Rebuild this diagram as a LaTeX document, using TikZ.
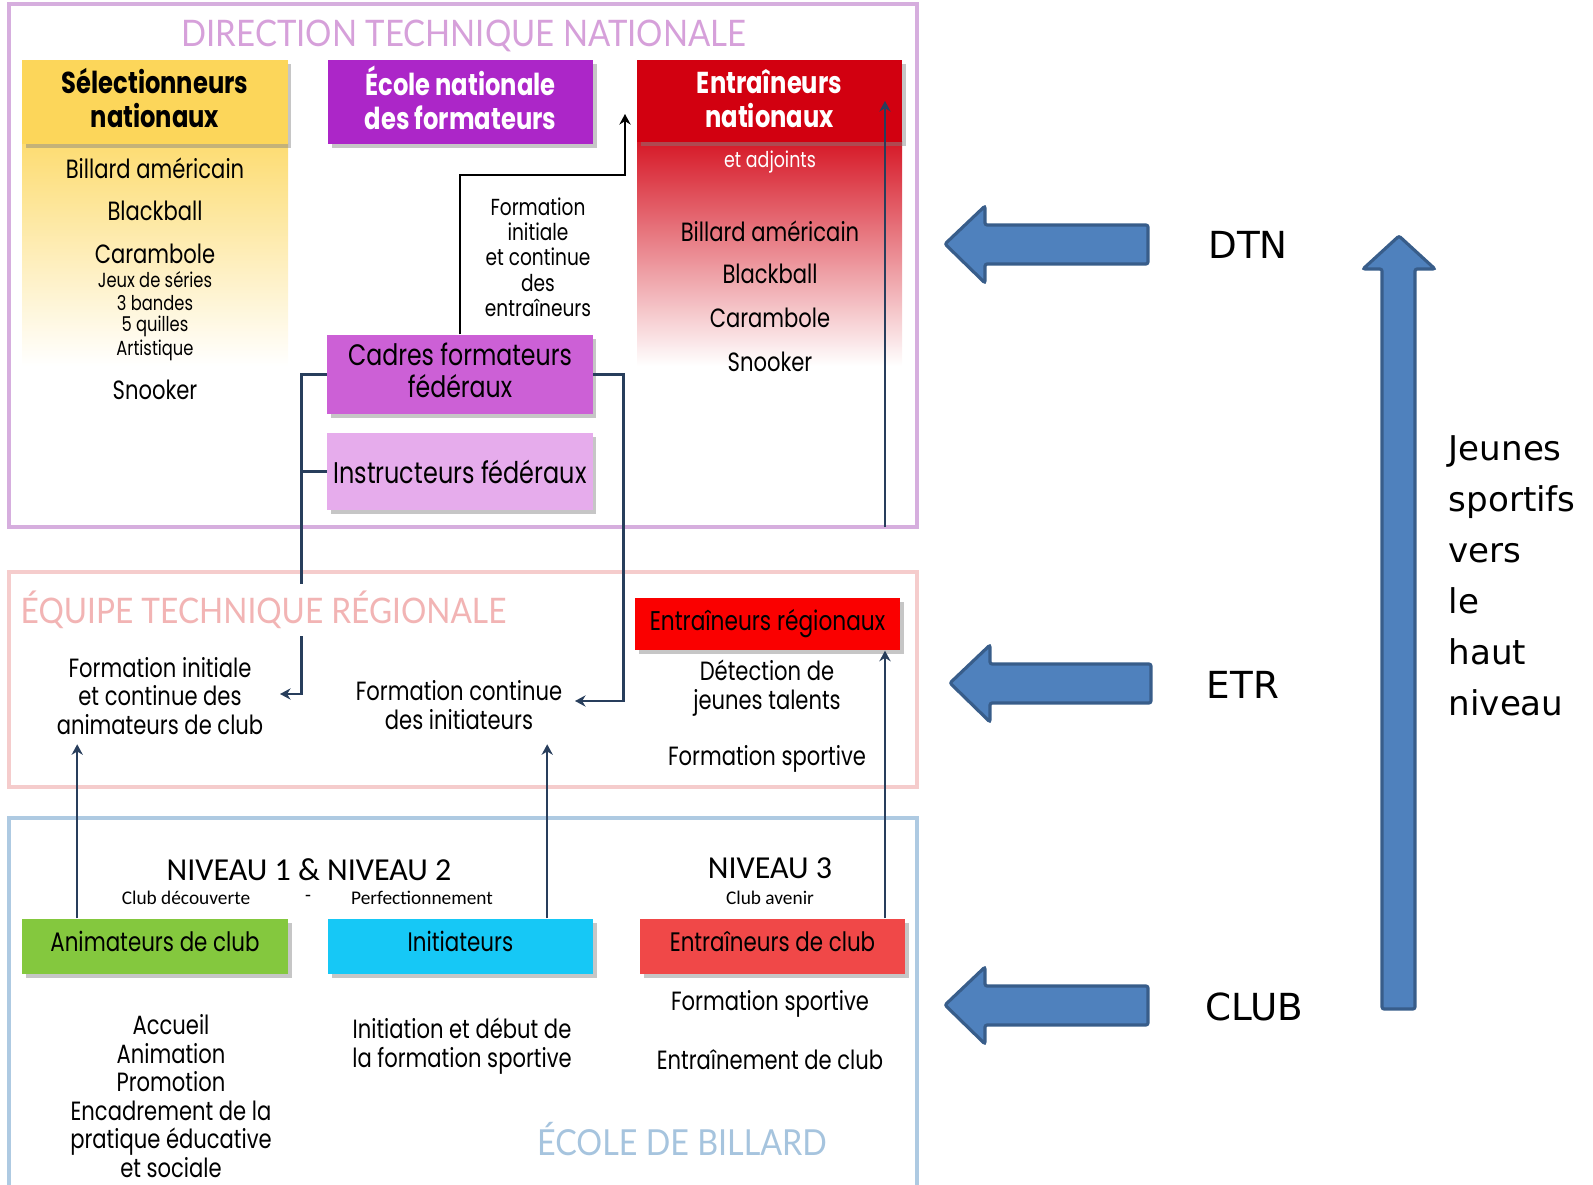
\documentclass[tikz,border=0pt]{standalone}
\usepackage{fontspec}
\usetikzlibrary{arrows.meta,positioning,calc,shadows}
\newfontfamily\rnd[FakeStretch=0.8]{Poppins}
\newfontfamily\ttlfont[FakeStretch=0.9]{Lato}
\newfontfamily\nivfont{Carlito}
\newfontfamily\verd{DejaVu Sans}
\definecolor{selyellow}{RGB}{252,214,90}
\definecolor{ecolepurple}{RGB}{172,38,200}
\definecolor{entred}{RGB}{210,0,16}
\definecolor{cadrespurple}{RGB}{204,96,214}
\definecolor{instrpurple}{RGB}{230,172,236}
\definecolor{regred}{RGB}{250,0,0}
\definecolor{animgreen}{RGB}{132,200,62}
\definecolor{initcyan}{RGB}{22,200,246}
\definecolor{clubred}{RGB}{240,72,72}
\definecolor{dtnline}{RGB}{214,174,222}
\definecolor{etrline}{RGB}{245,204,204}
\definecolor{ecoleline}{RGB}{174,202,226}
\definecolor{dtntitle}{RGB}{214,160,218}
\definecolor{etrtitle}{RGB}{242,180,180}
\definecolor{ecoletitle}{RGB}{166,196,222}
\definecolor{linkblue}{RGB}{40,62,92}
\definecolor{arrowfill}{RGB}{79,129,189}
\definecolor{arrowedge}{RGB}{56,93,138}

\begin{document}
\begin{tikzpicture}[x=0.01cm,y=-0.01cm,
  frame/.style={line width=1pt},
  tier/.style={minimum width=2.65cm, inner sep=0pt, align=center,
    drop shadow={shadow xshift=1.1pt,shadow yshift=-1.1pt,opacity=.45}},
  head/.style={font=\rnd\bfseries\fontsize{8.6}{9.7}\selectfont, text depth=2.4pt},
  txt/.style={font=\rnd\fontsize{7.5}{8.1}\selectfont, align=center},
  small/.style={font=\rnd\fontsize{5.8}{6.6}\selectfont, align=center},
  link/.style={draw=linkblue, line width=.7pt},
  tip/.style={-{Stealth[length=3pt,width=3.2pt]}},
  bigarrow/.style={fill=arrowfill, draw=arrowedge, line width=.9pt, rounded corners=.6pt},
  side/.style={font=\verd\fontsize{10.6}{12}\selectfont},
]
\useasboundingbox (0,0) rectangle (1593,1185);

% frames
\draw[frame, dtnline] (9,4) rectangle (917,527);
\draw[frame, etrline] (9,572) rectangle (917,787);
\draw[frame, ecoleline] (9,1190) -- (9,818) -- (917,818) -- (917,1190);

% ---- Direction technique nationale
\node[font=\ttlfont\fontsize{10.4}{12}\selectfont, text=dtntitle] (dtntitle) at (464,36) {DIRECTION TECHNIQUE NATIONALE};

\shade[top color=selyellow!85, bottom color=white] (22,144) rectangle (288,366);
\shade[top color=entred!90, middle color=entred!45, bottom color=white] (637,142) rectangle (902,366);

\node[tier, head, fill=selyellow, minimum height=0.84cm] (sel) at (155,102) {Sélectionneurs\\nationaux};
\node[tier, head, fill=ecolepurple, text=white, minimum height=0.84cm] (enf) at (460.5,102) {École nationale\\des formateurs};
\node[tier, head, fill=entred, text=white, minimum height=0.82cm, text depth=1.4pt] (entn) at (769.5,101) {Entraîneurs\\nationaux};

% disciplines
\node[txt] (selba) at (155,168) {Billard américain};
\node[txt] (selbb) at (155,211) {Blackball};
\node[txt] (selca) at (155,254) {Carambole};
\node[small] (selje) at (155,280) {Jeux de séries};
\node[small] (sel3b) at (155,303) {3 bandes};
\node[small] (sel5q) at (155,326) {5 quilles};
\node[small] (selar) at (155,350) {Artistique};
\node[txt] (selsn) at (155,390) {Snooker};

\node[small, text=white, font=\rnd\fontsize{6.2}{7}\selectfont] (adj) at (770,162) {et adjoints};
\node[txt] (entba) at (770,231) {Billard américain};
\node[txt] (entbb) at (770,274) {Blackball};
\node[txt] (entca) at (770,318) {Carambole};
\node[txt] (entsn) at (770,362) {Snooker};

\node[txt, font=\rnd\fontsize{6.6}{7.2}\selectfont] (fent) at (538,257) {Formation\\initiale\\et continue\\des\\entraîneurs};

\node[tier, fill=cadrespurple, minimum height=0.79cm, font=\rnd\fontsize{8.4}{9.2}\selectfont, text depth=2.4pt] (cadres) at (460,374.5) {Cadres formateurs\\fédéraux};
\node[tier, fill=instrpurple, minimum height=0.77cm, font=\rnd\fontsize{8.5}{9.2}\selectfont] (instr) at (460,471.5) {Instructeurs fédéraux};

\coordinate (k1) at (625,175);
\coordinate (k2) at (625,114);
\draw[black, line width=.8pt, tip] (cadres.north) |- (k1) -- (k2);

% ---- Equipe technique regionale
\coordinate (fiaend) at (280,694);
\coordinate (fciend) at (575,701);
\draw[link, tip] (cadres.west) -- ++(-25,0) |- (fiaend);
\draw[link] (instr.west) -- ++(-25,0);
\draw[link, tip] (cadres.east) -- ++(30,0) |- (fciend);

\node[font=\ttlfont\fontsize{10}{11}\selectfont, text=etrtitle, fill=white, anchor=west, inner sep=2pt] (etrtitle) at (13,610) {ÉQUIPE TECHNIQUE RÉGIONALE};

\node[tier, fill=regred, minimum height=0.52cm, font=\rnd\fontsize{7.7}{8}\selectfont] (reg) at (767.5,624) {Entraîneurs régionaux};
\node[txt] (det) at (767,688) {Détection de\\jeunes talents};
\node[txt] (fsreg) at (767,759) {Formation sportive};
\node[txt] (fia) at (160,696) {Formation initiale\\et continue des\\animateurs de club};
\node[txt] (fci) at (459,705) {Formation continue\\des initiateurs};

% ---- Ecole de billard
\node[font=\nivfont\fontsize{9.1}{10}\selectfont] (niv12) at (309,870) {NIVEAU 1 \& NIVEAU 2};
\node[font=\nivfont\fontsize{5.5}{6}\selectfont] (clubdec) at (186,898) {Club découverte};
\node[font=\nivfont\fontsize{5.5}{6}\selectfont] (tiret) at (308,898) {-};
\node[font=\nivfont\fontsize{5.5}{6}\selectfont] (perf) at (422,898) {Perfectionnement};
\node[font=\nivfont\fontsize{9.1}{10}\selectfont] (niv3) at (770,868) {NIVEAU 3};
\node[font=\nivfont\fontsize{5.5}{6}\selectfont] (clubav) at (770,898) {Club avenir};

\node[tier, fill=animgreen, minimum height=0.55cm, font=\rnd\fontsize{7.6}{8}\selectfont, minimum width=2.66cm, text depth=3pt] (anim) at (155,946.5) {Animateurs de club};
\node[tier, fill=initcyan, minimum height=0.55cm, font=\rnd\fontsize{7.6}{8}\selectfont, text depth=3pt] (init) at (460.5,946.5) {Initiateurs};
\node[tier, fill=clubred, minimum height=0.55cm, font=\rnd\fontsize{7.6}{8}\selectfont, text depth=3pt] (entc) at (772.5,946.5) {Entraîneurs de club};

\node[txt] (acc) at (171,1096) {Accueil\\Animation\\Promotion\\Encadrement de la\\pratique éducative\\et sociale};
\node[txt] (ini) at (462,1046) {Initiation et début de\\la formation sportive};
\node[txt] (fsclub) at (770,1004) {Formation sportive};
\node[txt] (entclub) at (770,1060) {Entraînement de club};

\node[font=\ttlfont\fontsize{10.2}{11}\selectfont, text=ecoletitle] (ecoletitle) at (682,1139) {ÉCOLE DE BILLARD};

% montees
\coordinate (vx) at (885,0);
\draw[link, tip] ($(anim.north west)+(56,0)$) -- ++(0,-174);
\draw[link, tip] ($(init.north west)+(220,0)$) -- ++(0,-174);
\draw[link, tip] (entc.north -| vx) -- (reg.south -| vx);
\draw[link, tip] (885,527) -- (entn.center -| vx);

% ---- niveaux
\draw[bigarrow] (945,244) -- (985,206) -- (985,225) -- (1148,225) -- (1148,264) -- (985,264) -- (985,283) -- cycle;
\draw[bigarrow] (950,683) -- (990,645) -- (990,664) -- (1151,664) -- (1151,703) -- (990,703) -- (990,722) -- cycle;
\draw[bigarrow] (945,1005) -- (985,967) -- (985,986) -- (1148,986) -- (1148,1025) -- (985,1025) -- (985,1044) -- cycle;
\draw[bigarrow] (1382,1009) -- (1382,269) -- (1363,269) -- (1399,236) -- (1435,269) -- (1415,269) -- (1415,1009) -- cycle;

\node[side] (dtn) at (1248,245) {DTN};
\node[side] (etr) at (1243,685) {ETR};
\node[side] (club) at (1254,1007) {CLUB};
\node[font=\verd\fontsize{9.7}{14.5}\selectfont, align=left, anchor=north west, inner sep=0pt] (jeunes) at (1448,435) {Jeunes\\sportifs\\vers\\le\\haut\\niveau};
\end{tikzpicture}
\end{document}
